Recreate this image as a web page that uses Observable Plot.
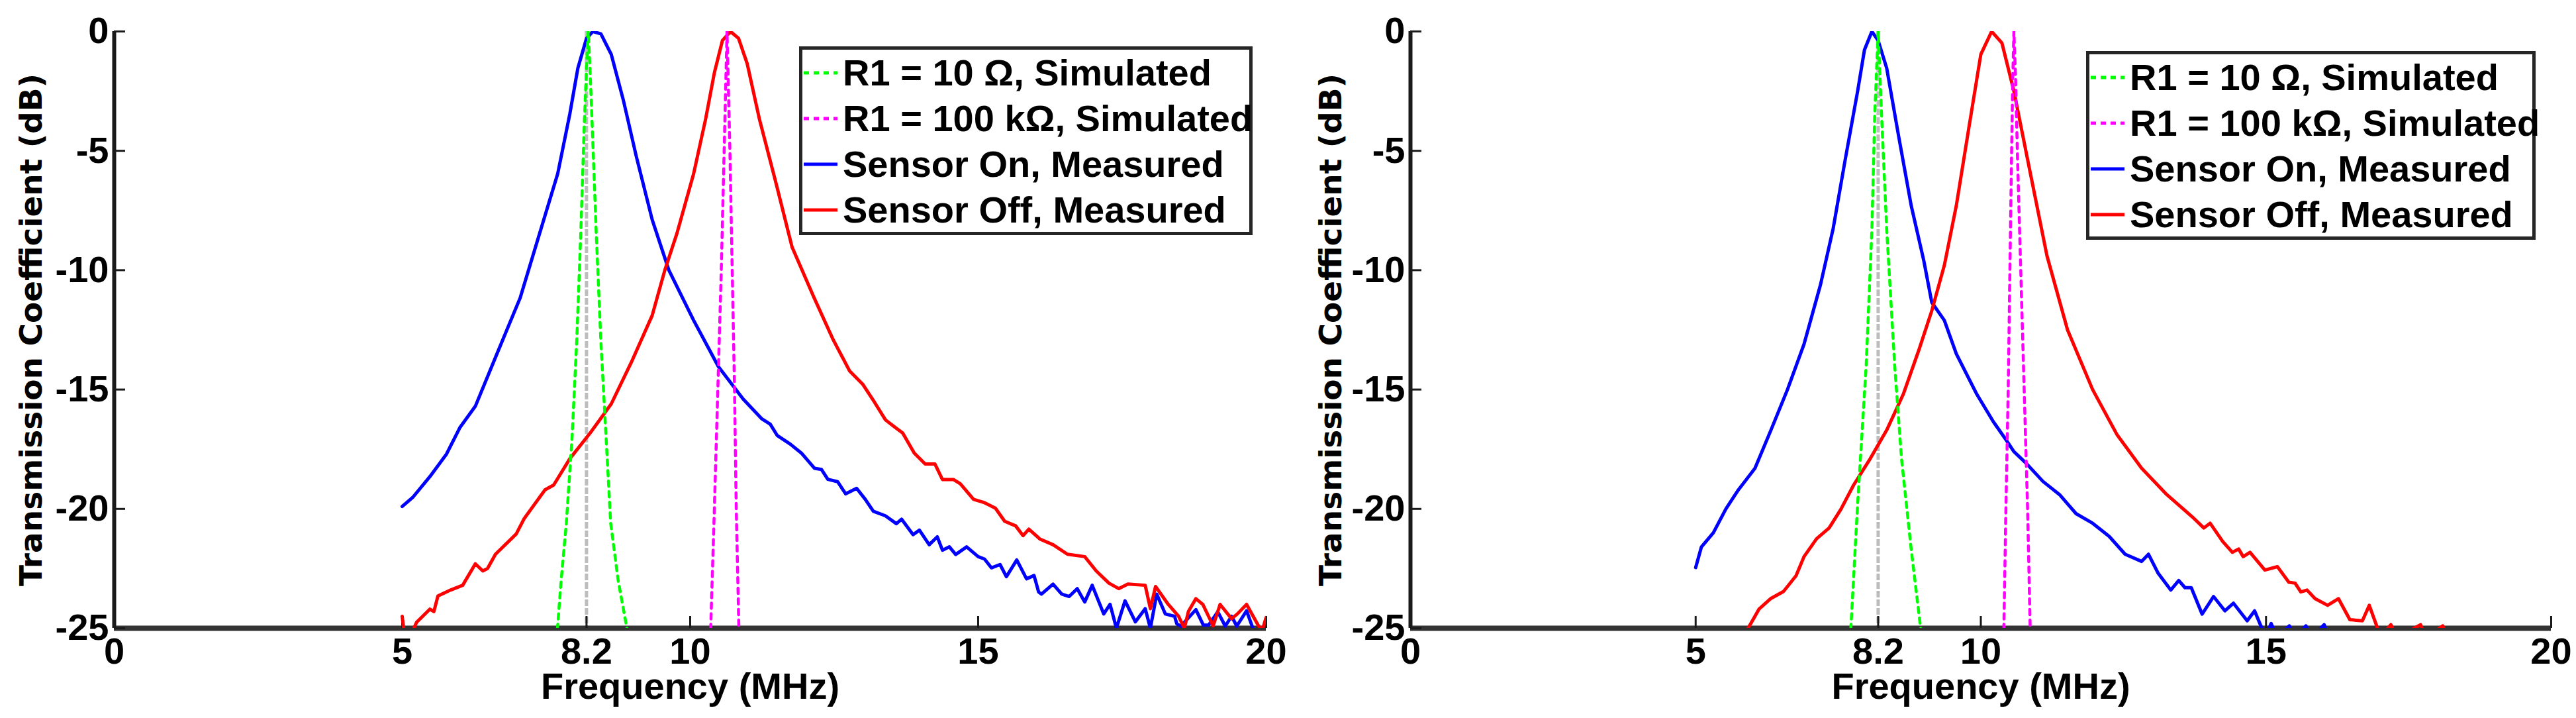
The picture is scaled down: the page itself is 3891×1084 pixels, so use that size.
<!DOCTYPE html>
<html>
<head>
<meta charset="utf-8">
<script src="https://cdn.jsdelivr.net/npm/d3@7"></script>
<script src="https://cdn.jsdelivr.net/npm/@observablehq/plot@0.6"></script>
<style>
  html, body { margin: 0; padding: 0; background: white; }
  #wrap { display: flex; width: 3891px; height: 1084px; }
  .panel { position: relative; height: 1084px; }
  .legend {
    position: absolute; box-sizing: border-box; background: white;
    border: 5px solid #262626;
    font-family: "Liberation Sans", Arial, sans-serif; font-weight: bold; font-size: 56px; color: #000;
  }
  .row { display: flex; align-items: center; height: 69px; white-space: nowrap; }
  .row svg { flex: none; margin-right: 5px; }
</style>
</head>
<body>
<div id="wrap">
  <div class="panel" id="left" style="width:1945px"></div>
  <div class="panel" id="right" style="width:1946px"></div>
</div>
<script>
// ---------- data (frequency MHz, transmission dB) ----------
const xTicks = [0, 5, 8.2, 10, 15, 20];
const yTicks = [0, -5, -10, -15, -20, -25];
const markerFreq = [8.2];

const legendLabels = ["R1 = 10 \u03A9, Simulated", "R1 = 100 k\u03A9, Simulated", "Sensor On, Measured", "Sensor Off, Measured"];
const seriesColors = ["#00ff00", "#ff00ff", "#0000ff", "#ff0000"];

const leftSim10 = [[7.68,-25.5],[7.76,-23],[7.85,-20.6],[7.95,-17],[8.03,-13],[8.1,-8.5],[8.16,-4],[8.2,-1.5],[8.23,0],[8.26,-1.5],[8.3,-4],[8.37,-8.5],[8.45,-13],[8.54,-17],[8.62,-20.6],[8.75,-23],[8.94,-25.5]];
const leftSim100k = [[10.35,-25.5],[10.42,-20],[10.48,-15],[10.54,-10],[10.59,-5],[10.62,-2],[10.64,0],[10.66,-2],[10.69,-5],[10.73,-10],[10.77,-15],[10.8,-20],[10.85,-25.5]];
const leftOn = [[5.0,-19.9],[5.19,-19.5],[5.48,-18.65],[5.77,-17.7],[6.0,-16.6],[6.27,-15.7],[6.62,-13.65],[7.05,-11.15],[7.41,-8.27],[7.7,-5.96],[7.91,-3.46],[8.05,-1.54],[8.2,-0.29],[8.31,0],[8.45,-0.1],[8.63,-0.96],[8.84,-2.88],[9.06,-5.19],[9.34,-7.88],[9.63,-10],[10.06,-12.1],[10.49,-14.04],[10.92,-15.4],[11.24,-16.22],[11.39,-16.45],[11.51,-16.92],[11.74,-17.29],[11.93,-17.66],[12.16,-18.3],[12.28,-18.35],[12.39,-18.76],[12.56,-18.86],[12.7,-19.37],[12.89,-19.14],[13.04,-19.6],[13.18,-20.1],[13.39,-20.29],[13.58,-20.62],[13.67,-20.43],[13.87,-21.08],[13.98,-20.89],[14.15,-21.5],[14.29,-21.17],[14.38,-21.73],[14.5,-21.59],[14.61,-21.91],[14.8,-21.59],[15.0,-22.0],[15.11,-22.1],[15.23,-22.47],[15.38,-22.33],[15.49,-22.84],[15.67,-22.14],[15.84,-22.93],[15.97,-22.79],[16.05,-23.48],[16.1,-23.57],[16.3,-23.15],[16.45,-23.57],[16.58,-23.67],[16.72,-23.34],[16.85,-23.9],[16.98,-23.2],[17.18,-24.4],[17.29,-24.0],[17.4,-25.0],[17.55,-23.85],[17.73,-24.73],[17.9,-24.18],[17.99,-25.0],[18.1,-23.57],[18.25,-24.4],[18.41,-24.5],[18.45,-24.82],[18.52,-24.91],[18.78,-24.22],[18.91,-24.87],[19.0,-24.87],[19.16,-24.31],[19.29,-24.91],[19.4,-24.5],[19.49,-24.91],[19.66,-24.27],[19.77,-25.0],[19.9,-25.3]];
const leftOff = [[5.0,-24.5],[5.04,-25.3],[5.15,-25.3],[5.25,-24.75],[5.48,-24.2],[5.55,-24.3],[5.62,-23.65],[5.84,-23.4],[6.05,-23.2],[6.27,-22.3],[6.4,-22.6],[6.48,-22.5],[6.62,-21.9],[6.98,-21.05],[7.12,-20.4],[7.48,-19.2],[7.63,-19.0],[7.91,-17.9],[8.27,-16.8],[8.63,-15.6],[8.98,-13.85],[9.34,-11.9],[9.56,-10],[9.77,-8.46],[10.06,-5.96],[10.27,-3.65],[10.42,-1.73],[10.56,-0.38],[10.7,0],[10.84,-0.29],[10.99,-1.35],[11.2,-3.65],[11.49,-6.35],[11.77,-9.04],[12.15,-11.15],[12.48,-12.9],[12.77,-14.23],[13.0,-14.79],[13.2,-15.53],[13.39,-16.27],[13.54,-16.55],[13.69,-16.82],[13.89,-17.66],[14.08,-18.12],[14.25,-18.12],[14.38,-18.77],[14.57,-18.77],[14.69,-18.95],[14.92,-19.6],[15.11,-19.74],[15.3,-19.97],[15.46,-20.52],[15.65,-20.71],[15.78,-21.12],[15.88,-20.85],[16.07,-21.26],[16.3,-21.5],[16.55,-21.9],[16.85,-22.0],[17.05,-22.6],[17.27,-23.11],[17.44,-23.34],[17.6,-23.15],[17.9,-23.2],[17.99,-24.18],[18.08,-23.25],[18.3,-24.0],[18.48,-24.5],[18.58,-25.0],[18.65,-24.3],[18.78,-23.76],[18.9,-24.0],[19.0,-24.5],[19.08,-24.9],[19.2,-24.0],[19.4,-24.6],[19.5,-24.4],[19.66,-24.0],[19.86,-24.87],[19.93,-25.1],[20.0,-24.55]];

const rightSim10 = [[7.71,-25.5],[7.84,-19.8],[7.99,-14],[8.09,-8.3],[8.14,-3.5],[8.2,0],[8.26,-3.5],[8.35,-8.3],[8.49,-14],[8.61,-17.9],[8.78,-21.7],[8.97,-25.5]];
const rightSim100k = [[10.4,-25.5],[10.44,-20],[10.48,-15],[10.51,-10],[10.54,-5],[10.56,-2],[10.58,0],[10.61,-2],[10.64,-5],[10.7,-10],[10.76,-15],[10.82,-20],[10.87,-25.5]];
const rightOn = [[5.0,-22.46],[5.1,-21.6],[5.31,-21.0],[5.53,-20.0],[5.75,-19.2],[6.04,-18.3],[6.32,-16.7],[6.61,-15.0],[6.9,-13.1],[7.19,-10.6],[7.41,-8.27],[7.62,-5.4],[7.84,-2.5],[7.96,-0.77],[8.09,0],[8.2,-0.38],[8.35,-1.54],[8.56,-4.4],[8.78,-7.3],[9.0,-9.6],[9.14,-11.35],[9.36,-12.1],[9.57,-13.5],[9.93,-15.2],[10.22,-16.35],[10.44,-17.1],[10.58,-17.6],[10.8,-18.1],[11.09,-18.85],[11.38,-19.4],[11.67,-20.2],[11.96,-20.6],[12.25,-21.15],[12.53,-21.9],[12.82,-22.2],[12.94,-21.9],[13.11,-22.7],[13.33,-23.4],[13.47,-23.0],[13.58,-23.3],[13.69,-23.3],[13.88,-24.41],[14.08,-23.67],[14.28,-24.27],[14.43,-23.95],[14.67,-24.69],[14.8,-24.27],[14.92,-24.96],[15.0,-25.3],[15.09,-24.8],[15.2,-25.4],[15.41,-24.9],[15.5,-25.4],[15.7,-24.9],[15.8,-25.4],[16.02,-24.85],[16.12,-25.5]];
const rightOff = [[5.85,-25.5],[5.92,-25],[6.11,-24.2],[6.32,-23.75],[6.54,-23.46],[6.76,-22.8],[6.9,-22.0],[7.12,-21.25],[7.34,-20.8],[7.55,-20.0],[7.77,-19.0],[8.06,-17.9],[8.35,-16.7],[8.64,-15.2],[8.92,-13.3],[9.14,-11.7],[9.36,-9.8],[9.57,-7.3],[9.79,-4.04],[10.0,-0.96],[10.19,0],[10.37,-0.48],[10.58,-2.5],[10.87,-5.96],[11.16,-9.4],[11.52,-12.5],[11.96,-15.0],[12.39,-16.9],[12.82,-18.3],[13.26,-19.4],[13.71,-20.34],[13.91,-20.8],[14.02,-20.6],[14.24,-21.36],[14.41,-21.82],[14.52,-21.68],[14.6,-22.0],[14.72,-21.82],[14.98,-22.56],[15.2,-22.42],[15.4,-23.07],[15.51,-23.11],[15.61,-23.48],[15.72,-23.4],[15.86,-23.76],[16.08,-24.04],[16.27,-23.76],[16.47,-24.64],[16.69,-24.69],[16.81,-24.04],[16.95,-24.96],[17.0,-25.4],[17.19,-24.85],[17.3,-25.4],[17.71,-24.85],[17.8,-25.4],[18.1,-24.9],[18.2,-25.5]];

// ---------- drawing ----------
const FONT = '"Liberation Sans", Arial, Helvetica, sans-serif';
const toRows = arr => arr.map(([f, v]) => ({f, v}));

function panel({width, marginLeft, marginRight, titleDx, sim10, sim100k, on, off}) {
  const lineOpts = (stroke, dash, w = 5) => ({x: "f", y: "v", stroke, strokeWidth: w, clip: true, strokeDasharray: dash});
  return Plot.plot({
    width, height: 1084,
    marginTop: 47, marginBottom: 136, marginLeft, marginRight,
    x: {domain: [0, 20], label: null},
    y: {domain: [-25, 0], label: null},
    style: {background: "white", overflow: "visible", fontFamily: FONT, fontSize: "56px", fontWeight: "bold", color: "#000"},
    marks: [
      Plot.ruleX(markerFreq, {stroke: "#bdbdbd", strokeWidth: 5, strokeDasharray: "10,3"}),
      Plot.ruleY([-25], {stroke: "#333", strokeWidth: 8}),
      Plot.ruleX([0], {stroke: "#1a1a1a", strokeWidth: 6}),
      Plot.axisX({ticks: xTicks, tickSize: 18, dy: -18, tickFormat: () => "", stroke: "#1a1a1a", strokeWidth: 3, label: null}),
      Plot.axisY({ticks: yTicks, tickSize: 17, dx: 17, tickFormat: () => "", stroke: "#1a1a1a", strokeWidth: 3, label: null}),
      Plot.axisX({ticks: xTicks, tickSize: 0, tickPadding: 14, tickFormat: d => String(d), fontSize: 56, fontWeight: "bold", fontFamily: FONT, fill: "#000", label: null}),
      Plot.axisY({ticks: yTicks, tickSize: 0, tickPadding: 8, tickFormat: d => String(d), fontSize: 56, fontWeight: "bold", fontFamily: FONT, fill: "#000", label: null}),
      Plot.line(toRows(on), lineOpts(seriesColors[2])),
      Plot.line(toRows(off), lineOpts(seriesColors[3])),
      Plot.line(toRows(sim10), lineOpts(seriesColors[0], "8,8", 4.5)),
      Plot.line(toRows(sim100k), lineOpts(seriesColors[1], "8,8", 4.5)),
      Plot.text(["Frequency (MHz)"], {frameAnchor: "bottom", dy: 67, lineAnchor: "top", textAnchor: "middle", fontSize: 56, fontWeight: "bold", fontFamily: FONT, fill: "#000"}),
      Plot.text(["Transmission Coefficient (dB)"], {frameAnchor: "left", dx: titleDx, rotate: -90, textAnchor: "middle", lineAnchor: "middle", fontSize: 47, fontWeight: "bold", fontFamily: '"DejaVu Sans", Verdana, sans-serif', fill: "#000"})
    ]
  });
}

function legend(left, top, width, height) {
  const box = document.createElement("div");
  box.className = "legend";
  Object.assign(box.style, {left: left + "px", top: top + "px", width: width + "px", height: height + "px"});
  legendLabels.forEach((label, i) => {
    const row = document.createElement("div");
    row.className = "row";
    const ns = "http://www.w3.org/2000/svg";
    const s = document.createElementNS(ns, "svg");
    s.setAttribute("width", 56); s.setAttribute("height", 20);
    const ln = document.createElementNS(ns, "line");
    ln.setAttribute("x1", 2); ln.setAttribute("x2", 53); ln.setAttribute("y1", 10); ln.setAttribute("y2", 10);
    ln.setAttribute("stroke", seriesColors[i]); ln.setAttribute("stroke-width", 5);
    if (i < 2) ln.setAttribute("stroke-dasharray", "8,7");
    s.appendChild(ln);
    row.appendChild(s);
    const t = document.createElement("span");
    t.textContent = label;
    row.appendChild(t);
    box.appendChild(row);
  });
  return box;
}

const L = document.getElementById("left");
L.appendChild(panel({width: 1945, marginLeft: 172, marginRight: 33, titleDx: -125, sim10: leftSim10, sim100k: leftSim100k, on: leftOn, off: leftOff}));
L.appendChild(legend(1207, 70, 685, 285));

const R = document.getElementById("right");
R.appendChild(panel({width: 1946, marginLeft: 185, marginRight: 38, titleDx: -120, sim10: rightSim10, sim100k: rightSim100k, on: rightOn, off: rightOff}));
R.appendChild(legend(1206, 77, 679, 285));
</script>
</body>
</html>
